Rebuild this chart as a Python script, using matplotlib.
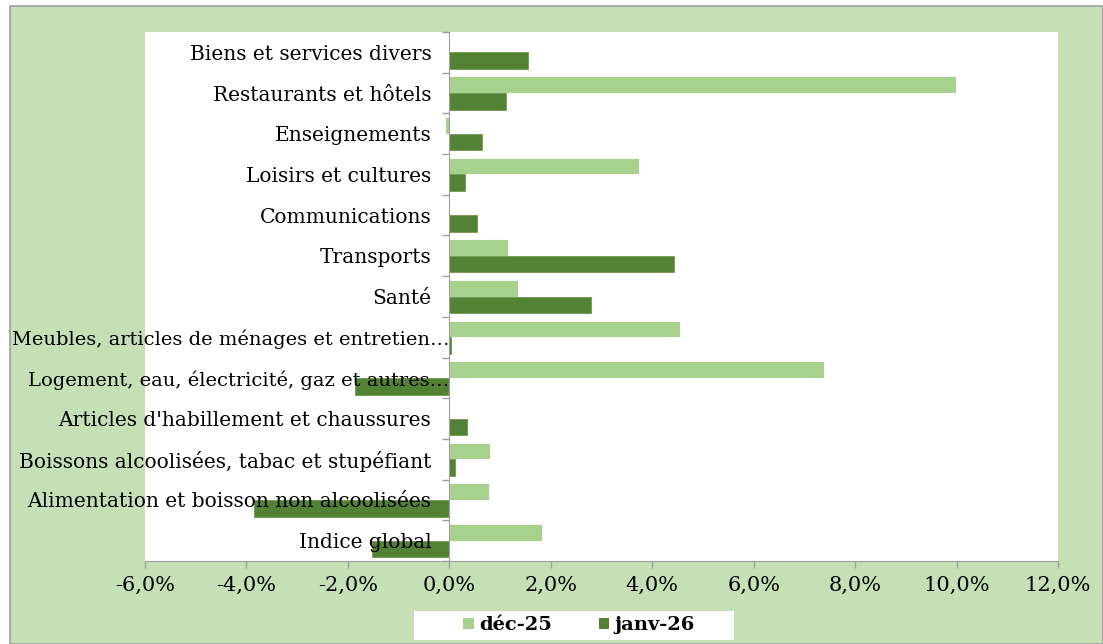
import matplotlib
matplotlib.use("Agg")
import matplotlib.pyplot as plt
from matplotlib.patches import Rectangle, Patch
from matplotlib.ticker import FuncFormatter, FixedLocator
from matplotlib.transforms import ScaledTranslation
import numpy as np

plt.rcParams["font.family"] = ["DejaVu Serif"]

categories = [
    "Indice global",
    "Alimentation et boisson non alcoolisées",
    "Boissons alcoolisées, tabac et stupéfiant",
    "Articles d'habillement et chaussures",
    "Logement, eau, électricité, gaz et autres…",
    "Meubles, articles de ménages et entretien…",
    "Santé",
    "Transports",
    "Communications",
    "Loisirs et cultures",
    "Enseignements",
    "Restaurants et hôtels",
    "Biens et services divers",
]
dec25 = [1.83, 0.79, 0.80, 0.01, 7.39, 4.55, 1.35, 1.16, 0.0, 3.74, -0.08, 9.98, 0.0]
janv26 = [-1.52, -3.85, 0.11, 0.35, -1.86, 0.03, 2.79, 4.42, 0.54, 0.30, 0.65, 1.12, 1.56]
series_names = ["déc-25", "janv-26"]
xticks = [-6, -4, -2, 0, 2, 4, 6, 8, 10, 12]

LIGHT = "#A9D18E"
DARK = "#548235"
BG = "#C5E0B4"
GRID = "#A0A0A0"

W, H = 1103, 644
fig = plt.figure(figsize=(W / 100, H / 100), dpi=100)
fig.patch.set_facecolor("white")
bgrect = Rectangle((10 / W, 0), 1 - 10 / W, (H - 6) / H, transform=fig.transFigure,
                   facecolor=BG, edgecolor=GRID, linewidth=1.2, zorder=-5)
fig.patches.append(bgrect)
legrect = Rectangle((414 / W, 1 - 640 / H), (734 - 414) / W, (640 - 611) / H,
                    transform=fig.transFigure, facecolor="white", edgecolor="none", zorder=-4)
fig.patches.append(legrect)

ax = fig.add_axes([145 / W, (H - 561) / H, (1058 - 145) / W, (561 - 32) / H])
ax.set_zorder(2)
ax.set_facecolor("white")

y = np.arange(len(categories))
h = 0.41
ax.barh(y + h / 2, dec25, height=h, color=LIGHT, edgecolor="white", linewidth=0.6, zorder=1)
ax.barh(y - h / 2, janv26, height=h, color=DARK, edgecolor="#6E9A50", linewidth=0.6, zorder=1)

ax.set_xlim(-6, 12)
ax.set_ylim(-0.5, len(categories) - 0.5)

ax.set_xticks(xticks)
ax.xaxis.set_major_formatter(FuncFormatter(lambda v, p: f"{v:.1f}%".replace(".", ",")))
ax.tick_params(axis="x", length=5, width=1, color=GRID, pad=6, labelsize=15, labelcolor="black")

ax.set_yticks(y)
ax.set_yticklabels([])
ax.yaxis.set_minor_locator(FixedLocator(np.arange(-0.5, len(categories), 1.0)))
ax.tick_params(axis="y", which="major", length=0)
ax.tick_params(axis="y", which="minor", length=5, width=1, color=GRID)

# category labels placed next to the zero axis (Excel style)
for yi, lab in zip(y, categories):
    long_lab = lab.endswith("…")
    shift = 0 if long_lab else -18
    tr = ax.transData + ScaledTranslation(shift / 100, 0, fig.dpi_scale_trans)
    ax.text(0, yi, lab, transform=tr, ha="right", va="center_baseline",
            fontsize=14.0 if long_lab else 14.5,
            color="black", clip_on=False, zorder=4)

ax.spines["left"].set_position(("data", 0))
ax.spines["left"].set_color(GRID)
ax.spines["bottom"].set_color(GRID)
ax.spines["top"].set_visible(False)
ax.spines["right"].set_visible(False)
ax.spines["left"].set_zorder(3)

handles = [Patch(facecolor=LIGHT, edgecolor="none"), Patch(facecolor=DARK, edgecolor="none")]
leg = fig.legend(handles, series_names, loc="center",
                 bbox_to_anchor=(579 / W, 1 - 625.5 / H),
                 ncol=2, frameon=False,
                 handlelength=0.55, handleheight=0.55, handletextpad=0.25,
                 columnspacing=2.4, borderpad=0.2,
                 prop={"family": "DejaVu Serif", "weight": "bold", "size": 14})
leg.set_zorder(3)

fig.savefig("out.png", dpi=100, facecolor=fig.get_facecolor())
